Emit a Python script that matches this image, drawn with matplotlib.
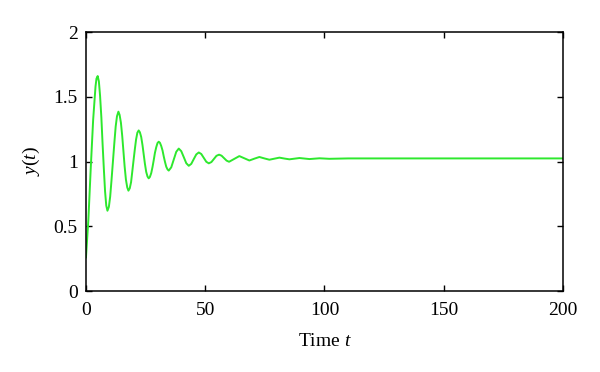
import matplotlib
matplotlib.use('Agg')
import matplotlib.pyplot as plt

plt.rcParams['font.family'] = 'Liberation Serif'
plt.rcParams['mathtext.fontset'] = 'custom'
plt.rcParams['mathtext.it'] = 'Liberation Serif:italic'
plt.rcParams['mathtext.rm'] = 'Liberation Serif'

# values
t = [0, 1, 2, 3, 4, 4.4, 4.9, 5.4, 5.9, 6.45, 6.95, 7.5, 8.0, 8.5, 9.0,
     9.6, 10.15, 10.7, 11.3, 11.9, 12.45, 13.0, 13.6,
     14.1, 14.65, 15.2, 15.7, 16.2, 16.75, 17.3, 17.8,
     18.35, 18.9, 19.4, 19.95, 20.5, 21.0, 21.55, 22.1,
     22.6, 23.15, 23.7, 24.2, 24.7, 25.25, 25.8, 26.3,
     26.8, 27.35, 27.9, 28.4, 28.9, 29.45, 30.0, 30.5,
     31.0, 31.55, 32.1, 32.6, 33.1, 33.65, 34.2, 34.7,
     35.75, 36.8, 37.85, 38.9, 39.95, 41.0, 42.05, 43.1,
     44.15, 45.2, 46.25, 47.3, 48.35, 49.4, 50.45, 51.5,
     52.6, 53.65, 54.7, 55.8, 56.85, 57.9, 58.95, 60.0,
     62.15, 64.3, 66.4, 68.5, 70.6, 72.7, 74.8, 76.9,
     79.0, 81.1, 83.2, 85.3, 87.4, 89.5, 91.6, 93.7,
     95.8, 97.9, 100, 102, 110, 150, 200]
y = [0.26, 0.55, 0.95, 1.32, 1.58, 1.64, 1.66, 1.62, 1.51, 1.34, 1.14, 0.94, 0.77, 0.66, 0.62,
     0.65, 0.73, 0.855, 1.00, 1.145, 1.27, 1.35, 1.385,
     1.36, 1.30, 1.197, 1.08, 0.963, 0.86, 0.80, 0.775,
     0.793, 0.84, 0.92, 1.01, 1.097, 1.17, 1.223, 1.24,
     1.226, 1.19, 1.126, 1.055, 0.984, 0.92, 0.884, 0.87,
     0.881, 0.91, 0.958, 1.01, 1.066, 1.11, 1.143, 1.153,
     1.145, 1.12, 1.085, 1.04, 0.999, 0.96, 0.939, 0.93,
     0.955, 1.015, 1.075, 1.10, 1.08, 1.034, 0.987, 0.967,
     0.982, 1.019, 1.055, 1.07, 1.058, 1.028, 0.998, 0.986,
     0.996, 1.02, 1.044, 1.053, 1.045, 1.026, 1.007, 0.998,
     1.02, 1.042, 1.025, 1.008, 1.022, 1.035, 1.024, 1.014,
     1.022, 1.030, 1.023, 1.017, 1.022, 1.027, 1.023, 1.019,
     1.022, 1.025, 1.023, 1.021, 1.024, 1.024, 1.024]

xticks = [0, 50, 100, 150, 200]
yticks = [0, 0.5, 1, 1.5, 2]
ytick_labels = ['0', '0.5', '1', '1.5', '2']

fig = plt.figure(figsize=(6, 3.72), dpi=100)
ax = fig.add_axes([0.1433, 0.2177, 0.7950, 0.6962])
ax.plot(t, y, color='#2ee82e', linewidth=1.4)

ax.set_xlim(0, 200)
ax.set_ylim(0, 2)
ax.set_xticks(xticks)
ax.set_yticks(yticks)
ax.set_yticklabels(ytick_labels)
ax.tick_params(direction='in', top=True, right=True, length=4, width=1,
               labelsize=14)
ax.tick_params(axis='x', pad=8)
ax.tick_params(axis='y', pad=6)
for s in ax.spines.values():
    s.set_linewidth(1.1)

ax.set_xlabel('Time $t$', fontsize=14, labelpad=10)
ax.set_ylabel('$y(t)$', fontsize=14, labelpad=8)

fig.savefig('out.png', dpi=100)
